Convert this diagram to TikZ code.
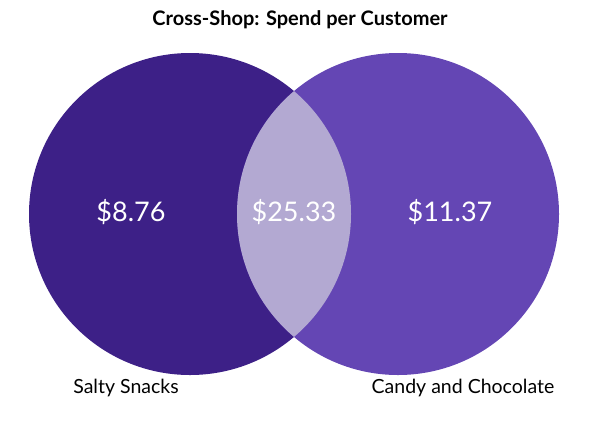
\documentclass[tikz,border=0pt]{standalone}
\usepackage{fontspec}
\setmainfont{Lato}
\usepackage{tikz}

\definecolor{snackpurple}{HTML}{3D2087}
\definecolor{candypurple}{HTML}{6446B4}
\definecolor{lenslilac}{HTML}{B3A9D2}

\begin{document}
\begin{tikzpicture}[x=1pt,y=-1pt,
  spend/.style={text=white,inner sep=0pt,font=\fontsize{27}{30}\selectfont},
  setname/.style={text=black,inner sep=0pt,font=\fontsize{19.5}{22}\selectfont}]
\useasboundingbox (0,0) rectangle (601,426);

% the two sets
\fill[snackpurple] (190,214) circle (161pt);
\fill[candypurple] (398,214) circle (161pt);
\begin{scope}
\clip (190,214) circle (161pt);
\fill[lenslilac] (398,214) circle (161pt);
\end{scope}

\node[inner sep=0pt,font=\fontsize{20}{23}\selectfont\bfseries] (title) at (300,20) {Cross-Shop: Spend per Customer};

\node[spend] (snacks) at (131,212) {\$8.76};
\node[spend] (both) at (294,212) {\$25.33};
\node[spend] (candy) at (450,212) {\$11.37};

\node[setname] (snackname) at (126,388) {Salty Snacks};
\node[setname] (candyname) at (463,388) {Candy and Chocolate};
\end{tikzpicture}
\end{document}
